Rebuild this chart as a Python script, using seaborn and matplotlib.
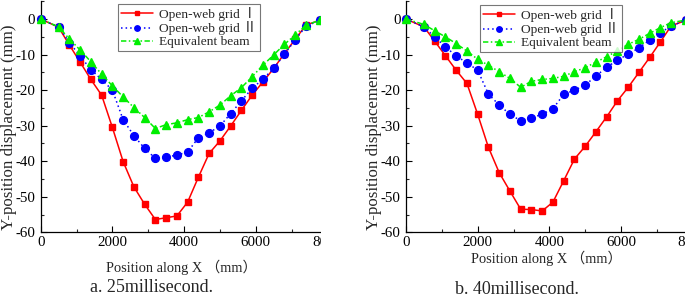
import matplotlib
matplotlib.use("Agg")
import matplotlib.pyplot as plt
from matplotlib.patches import Rectangle
from matplotlib.ticker import MultipleLocator
import numpy as np
import pandas as pd
import seaborn as sns

# ---------------- data ----------------
positions = [0, 500, 800, 1100, 1400, 1700, 2000, 2300, 2600, 2900, 3200, 3500, 3800,
             4100, 4400, 4700, 5000, 5300, 5600, 5900, 6200, 6500, 6800, 7100, 7400, 7800]

# a. 25 millisecond
grid1_25 = [0, -2.3, -7.3, -12.1, -17.0, -21.4, -30.5, -40.1, -47.2, -52.1, -56.4, -55.9, -55.4,
            -51.5, -44.5, -37.8, -34.3, -30.1, -25.7, -21.4, -17.7, -13.9, -9.7, -5.7, -1.7, -0.3]
grid2_25 = [0, -2.2, -6.6, -10.4, -14.2, -17.0, -20.0, -28.3, -32.8, -36.4, -39.2, -38.8, -38.3,
            -37.4, -33.4, -32.0, -30.1, -26.6, -23.0, -19.5, -16.9, -13.9, -9.9, -5.9, -2.0, -0.3]
beam_25 = [0, -2.2, -5.6, -8.7, -12.0, -15.5, -18.8, -21.9, -24.9, -27.7, -30.8, -29.7, -29.2,
           -28.3, -27.7, -26.1, -24.2, -21.6, -19.3, -16.2, -13.0, -10.1, -7.1, -4.5, -1.7, -0.3]

# b. 40 millisecond
grid1_40 = [0, -2.2, -6.2, -10.3, -14.4, -18.1, -26.8, -36.1, -43.2, -48.4, -53.5, -53.6, -54.0,
            -51.5, -45.5, -39.4, -35.8, -31.7, -27.5, -23.0, -19.2, -15.0, -10.8, -6.4, -1.9, -0.4]
grid2_40 = [0, -2.2, -5.0, -7.8, -10.4, -12.3, -14.4, -21.1, -24.2, -26.8, -28.6, -27.8, -26.8,
            -25.2, -21.2, -20.0, -18.6, -16.0, -13.6, -11.5, -9.9, -8.1, -5.9, -3.8, -2.0, -0.3]
beam_40 = [0, -1.5, -3.3, -5.0, -6.9, -9.0, -11.3, -13.0, -14.8, -16.7, -19.2, -17.5, -17.0,
           -16.7, -16.1, -14.8, -13.7, -12.1, -10.6, -8.9, -7.1, -5.7, -4.0, -2.4, -1.0, -0.3]

series_names = ["Open-web grid Ⅰ", "Open-web grid Ⅱ", "Equivalent beam"]
x_ticks = [0, 2000, 4000, 6000, 8000]
x_ticklabels = ["0", "2000", "4000", "6000", "8000"]
y_ticks = [0, -10, -20, -30, -40, -50, -60]
captions = ["a. 25millisecond.", "b. 40millisecond."]
x_label = "Position along X （mm）"
y_label = "Y-position displacement (mm)"

# ---------------- style ----------------
sns.set_theme(style="ticks")
FAM = ["Liberation Serif", "Noto Sans CJK SC", "DejaVu Sans"]
plt.rcParams["font.family"] = FAM
plt.rcParams["axes.unicode_minus"] = False

colors = {series_names[0]: "#ff0000", series_names[1]: "#0000ff", series_names[2]: "#00ee00"}
markers = {series_names[0]: "s", series_names[1]: "o", series_names[2]: "^"}
dashes = {series_names[0]: "", series_names[1]: (1, 2.0), series_names[2]: (3.5, 1.6, 1, 1.6)}
msize = {series_names[0]: 4.2, series_names[1]: 5.6, series_names[2]: 5.6}

W, H = 685, 299
fig = plt.figure(figsize=(W / 100, H / 100), dpi=100)

def make_df(a, b, c):
    rows = []
    for name, vals in zip(series_names, (a, b, c)):
        for xv, yv in zip(positions, vals):
            rows.append({"x": xv, "y": yv, "series": name})
    return pd.DataFrame(rows)

panels = [
    (make_df(grid1_25, grid2_25, beam_25), 40.7, (118, 4, 255, 48), captions[0], 267, 288),
    (make_df(grid1_40, grid2_40, beam_40), 406.0, (480, 5, 598, 49), captions[1], 258, 290),
]

ax_w = 286.7
top_px, bot_px = 1.3, 232.3
for df, left_px, leg_box, cap, xl_y, cap_y in panels:
    ax = fig.add_axes([left_px / W, 1 - bot_px / H, ax_w / W, (bot_px - top_px) / H])
    for name in series_names:
        sub = df[df["series"] == name]
        ls = "-" if name == series_names[0] else (0, dashes[name])
        ax.plot(sub["x"], sub["y"], color=colors[name], lw=1.1, ls=ls,
                marker=markers[name], ms=msize[name], mec=colors[name],
                mfc=colors[name], label=name, clip_on=False, zorder=3)
    ax.set_xlim(0, 8000)
    ax.set_ylim(-60, 5)
    ax.set_xticks(x_ticks)
    ax.set_xticklabels(x_ticklabels)
    ax.set_yticks(y_ticks)
    ax.xaxis.set_minor_locator(MultipleLocator(1000))
    ax.yaxis.set_minor_locator(MultipleLocator(5))
    ax.tick_params(axis="both", which="major", direction="in", length=4, width=0.8,
                   labelsize=10.8, colors="black")
    ax.tick_params(axis="y", which="major", pad=4)
    ax.tick_params(axis="x", which="major", pad=2.5)
    ax.tick_params(axis="both", which="minor", direction="in", length=2.2, width=0.8)
    for lab in ax.get_xticklabels() + ax.get_yticklabels():
        lab.set_fontfamily(FAM)
    sns.despine(ax=ax)
    for s in ("left", "bottom"):
        ax.spines[s].set_linewidth(0.9)
        ax.spines[s].set_color("black")
    ax.set_xlabel("")
    ax.set_ylabel("")
    # y label
    fig.text((left_px - 32) / W, 1 - 127 / H, y_label, rotation=90,
             ha="center", va="center", fontsize=12.2, family=FAM)
    # x label
    fig.text((left_px + ax_w / 2 - 3) / W, 1 - xl_y / H, x_label, ha="center", va="center",
             fontsize=10.4, family=FAM)
    # caption
    fig.text((left_px + 111) / W, 1 - cap_y / H, cap, ha="center", va="center",
             fontsize=13, family=FAM)
    # legend
    x0, y0, x1, y1 = leg_box
    leg = ax.legend(loc="upper left",
                    bbox_to_anchor=((x0 - left_px) / ax_w, 1 - (y0 - top_px) / (bot_px - top_px)),
                    frameon=True, fancybox=False, fontsize=9.6, handlelength=2.4,
                    borderpad=0.2, labelspacing=0.05, handletextpad=0.5, borderaxespad=0,
                    markerscale=0.7)
    leg.get_frame().set_edgecolor("#555555")
    leg.get_frame().set_linewidth(0.8)
    for t in leg.get_texts():
        t.set_fontfamily(FAM)

# white gap between the two cropped panels
fig.patches.append(Rectangle((321 / W, 0), 24 / W, 1, transform=fig.transFigure,
                             facecolor="white", edgecolor="none", zorder=10))

fig.savefig("out.png", dpi=100)
